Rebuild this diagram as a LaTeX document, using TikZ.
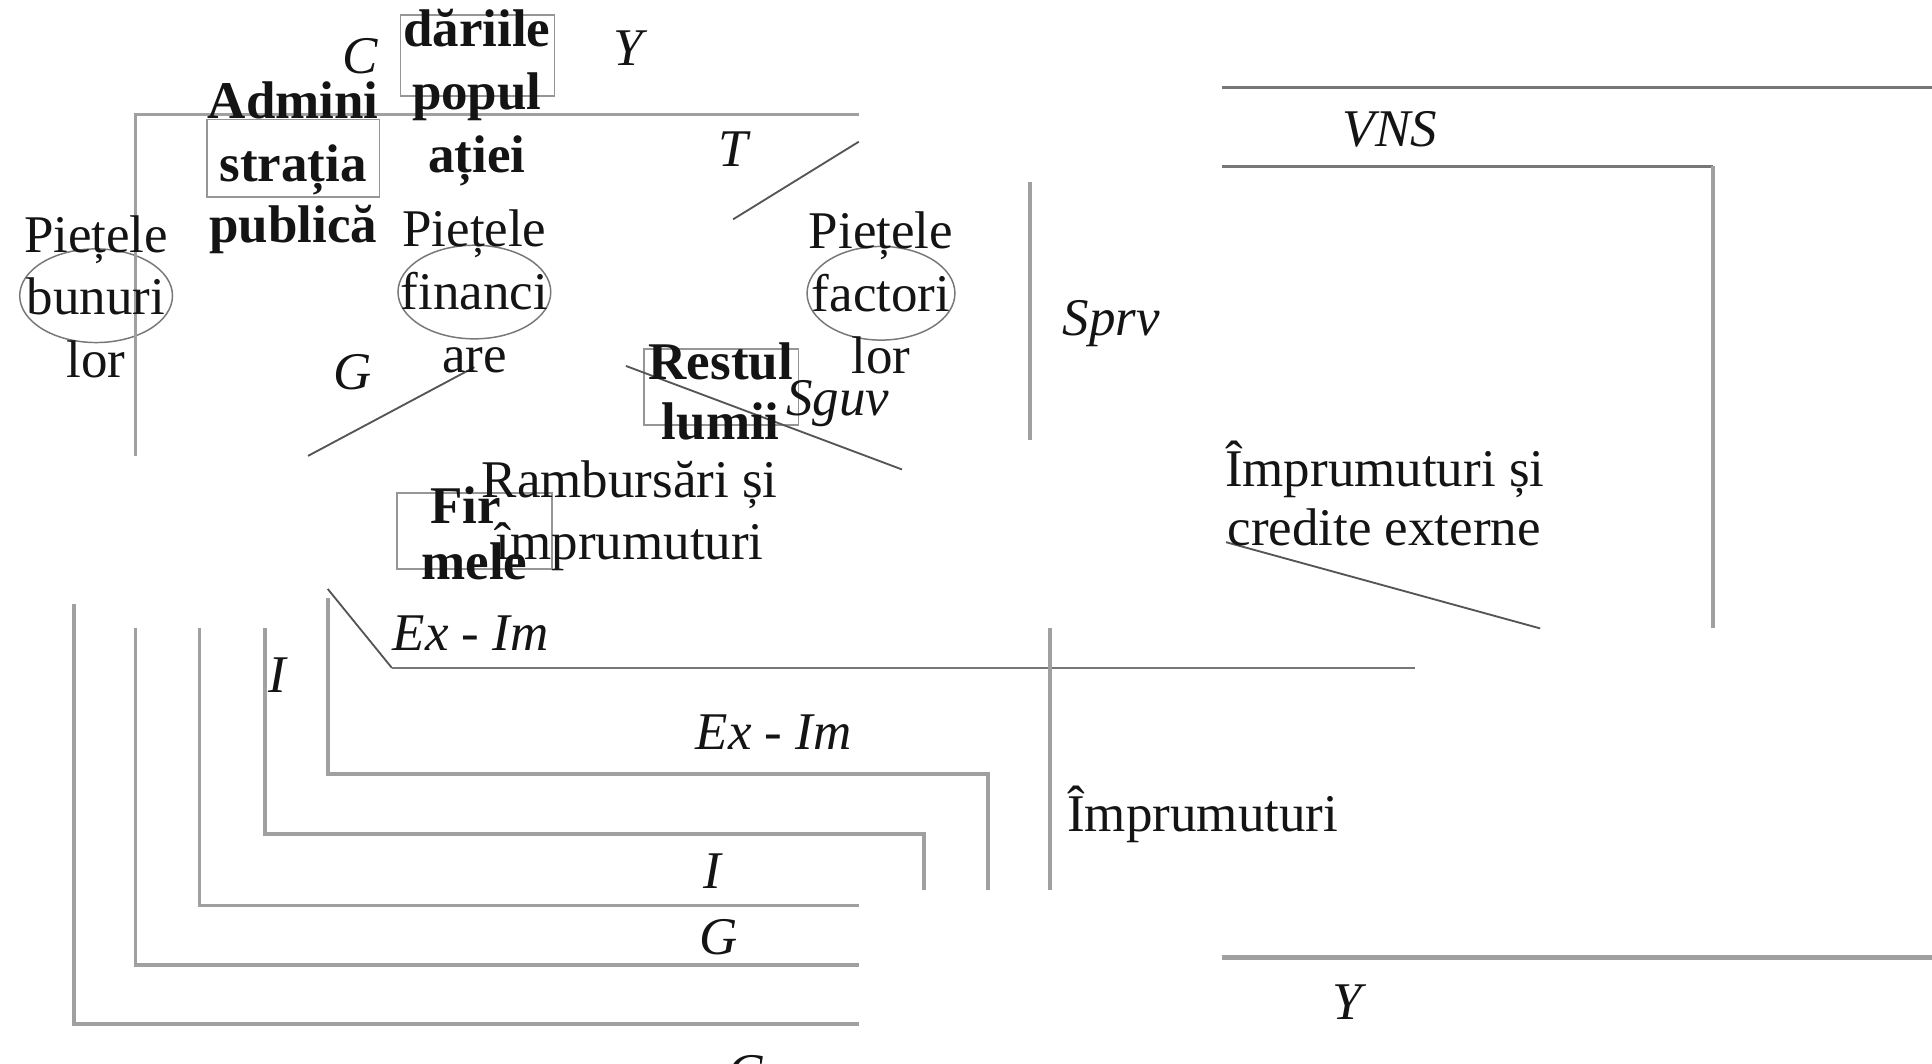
\documentclass[tikz,border=0pt]{standalone}
\usepackage{fontspec}
\setmainfont{Liberation Serif}
\usetikzlibrary{shapes.geometric}
\definecolor{flowgray}{RGB}{160,160,160}
\definecolor{darkline}{RGB}{85,85,85}
\definecolor{boxgray}{RGB}{150,150,150}
\definecolor{ellgray}{RGB}{120,120,120}
\definecolor{txt}{RGB}{20,20,20}
\begin{document}
\begin{tikzpicture}[x=1pt,y=-1pt,
  every node/.style={inner sep=0pt,text=txt},
  rm/.style={anchor=base,font=\fontsize{43pt}{51pt}\selectfont},
  lab/.style={anchor=base,font=\fontsize{43pt}{51pt}\selectfont\itshape},
  bld/.style={anchor=base,font=\fontsize{43pt}{51pt}\selectfont\bfseries},
  flow/.style={draw=flowgray,line width=3pt},
  flowdark/.style={draw=darkline!80,line width=2pt},
  thinl/.style={draw=darkline,line width=1.5pt},
  boxr/.style={draw=boxgray,line width=1.5pt,rectangle,fill=none},
  mkt/.style={draw=ellgray,line width=1.2pt,ellipse}]
\clip (0,0) rectangle (1568,863);
\fill[white] (0,0) rectangle (1568,863);

% ---------- boxes and ellipses ----------
\node[boxr,minimum width=125pt,minimum height=66pt] (gospbox) at (387.5,45) {};
\node[boxr,minimum width=140pt,minimum height=63pt] (adminbox) at (238,128.5) {};
\node[boxr,minimum width=125pt,minimum height=62pt] (restbox) at (585.5,314) {};
\node[boxr,minimum width=126pt,minimum height=62pt] (firmbox) at (385,431) {};
\node[mkt,minimum width=124pt,minimum height=76pt] (pbun) at (78,240) {};
\node[mkt,minimum width=124pt,minimum height=76pt] (pfin) at (385,237) {};
\node[mkt,minimum width=120pt,minimum height=76pt] (pfac) at (715,238) {};

% ---------- coordinates ----------
\coordinate (top0) at (110,370);
\coordinate (top1) at (110,93);
\coordinate (top2) at (697,93);
\coordinate (tA) at (595,178);
\coordinate (tB) at (697,115);
\coordinate (gA) at (250,370);
\coordinate (gB) at (385,298);
\coordinate (spA) at (836,148);
\coordinate (spB) at (836,357);
\coordinate (sgA) at (508,297);
\coordinate (sgB) at (732,381);
\coordinate (v1a) at (992,71);
\coordinate (v1b) at (1568,71);
\coordinate (v2a) at (992,135);
\coordinate (v2b) at (1390,135);
\coordinate (v2c) at (1390,510);
\coordinate (crA) at (995,440);
\coordinate (crB) at (1250,510);
\coordinate (c0) at (60,490);   \coordinate (c1) at (60,831);   \coordinate (c2) at (697,831);
\coordinate (g0) at (110,510);  \coordinate (g1) at (110,783);  \coordinate (g2) at (697,783);
\coordinate (i0) at (162,510);  \coordinate (i1) at (162,735);  \coordinate (i2) at (697,735);
\coordinate (j0) at (215,510);  \coordinate (j1) at (215,677);  \coordinate (j2) at (750,677); \coordinate (j3) at (750,722);
\coordinate (e0) at (266,485);  \coordinate (e1) at (266,628);  \coordinate (e2) at (802,628); \coordinate (e3) at (802,722);
\coordinate (x0) at (266,478);  \coordinate (x1) at (318,542);  \coordinate (x2) at (1148,542);
\coordinate (m0) at (852,510);  \coordinate (m1) at (852,722);
\coordinate (y0) at (992,777);  \coordinate (y1) at (1568,777);

% ---------- flow lines ----------
\draw[flow] (top0) -- (top1) -- (top2);
\draw[thinl] (tA) -- (tB);
\draw[thinl] (gA) -- (gB);
\draw[flow] (spA) -- (spB);
\draw[thinl] (sgA) -- (sgB);
\draw[flowdark] (v1a) -- (v1b);
\draw[flowdark] (v2a) -- (v2b);
\draw[flow] (v2b) -- (v2c);
\draw[thinl] (crA) -- (crB);
\draw[flow] (c0) -- (c1) -- (c2);
\draw[flow] (g0) -- (g1) -- (g2);
\draw[flow] (i0) -- (i1) -- (i2);
\draw[flow] (j0) -- (j1) -- (j2) -- (j3);
\draw[flow] (e0) -- (e1) -- (e2) -- (e3);
\draw[thinl] (x0) -- (x1);
\draw[flowdark] (x1) -- (x2);
\draw[flow] (m0) -- (m1);
\draw[flow,line width=4pt] (y0) -- (y1);

% ---------- texts ----------
\node[lab] (lC1) at (292,60) {C};
\node[bld] (gosp1) at (387,38) {dăriile};
\node[bld] (gosp2) at (387,89) {popul};
\node[bld] (gosp3) at (387,140) {ației};
\node[lab] (lY1) at (510,53) {Y};
\node[bld] (adm1) at (238,96) {Admini};
\node[bld] (adm2) at (238,147) {strația};
\node[bld] (adm3) at (238,197) {publică};
\node[lab] (lT) at (595,135) {T};
\node[rm] (pb1) at (78,205) {Piețele};
\node[rm] (pb2) at (78,255) {bunuri};
\node[rm] (pb3) at (78,306) {lor};
\node[rm] (pf1) at (385,200) {Piețele};
\node[rm] (pf2) at (385,251) {financi};
\node[rm] (pf3) at (385,302) {are};
\node[rm] (pc1) at (715,202) {Piețele};
\node[rm] (pc2) at (715,253) {factori};
\node[rm] (pc3) at (715,303) {lor};
\node[lab] (lG1) at (286,316) {G};
\node[lab] (lSprv) at (902,272) {Sprv};
\node[bld] (rest1) at (585,308) {Restul};
\node[bld] (rest2) at (585,357) {lumii};
\node[lab] (lSguv) at (680,337) {Sguv};
\node[bld] (firm1) at (378,425) {Fir};
\node[bld] (firm2) at (385,470) {mele};
\node[rm] (ramb1) at (511,404) {Rambursări și};
\node[rm] (ramb2) at (511,454) {împrumuturi};
\node[lab] (lVNS) at (1128,119) {VNS};
\node[rm,anchor=base west] (imp1) at (994,395) {Împrumuturi și};
\node[rm,anchor=base west] (imp2) at (996,443) {credite externe};
\node[lab] (lEx1) at (382,528) {Ex - Im};
\node[lab] (lI1) at (225,562) {I};
\node[lab] (lEx2) at (628,608) {Ex - Im};
\node[rm,anchor=base west] (imp3) at (866,675) {Împrumuturi};
\node[lab] (lI2) at (578,721) {I};
\node[lab] (lG2) at (583,775) {G};
\node[lab] (lY2) at (1093,827) {Y};
\node[lab] (lC2) at (605,885) {C};
\end{tikzpicture}
\end{document}
